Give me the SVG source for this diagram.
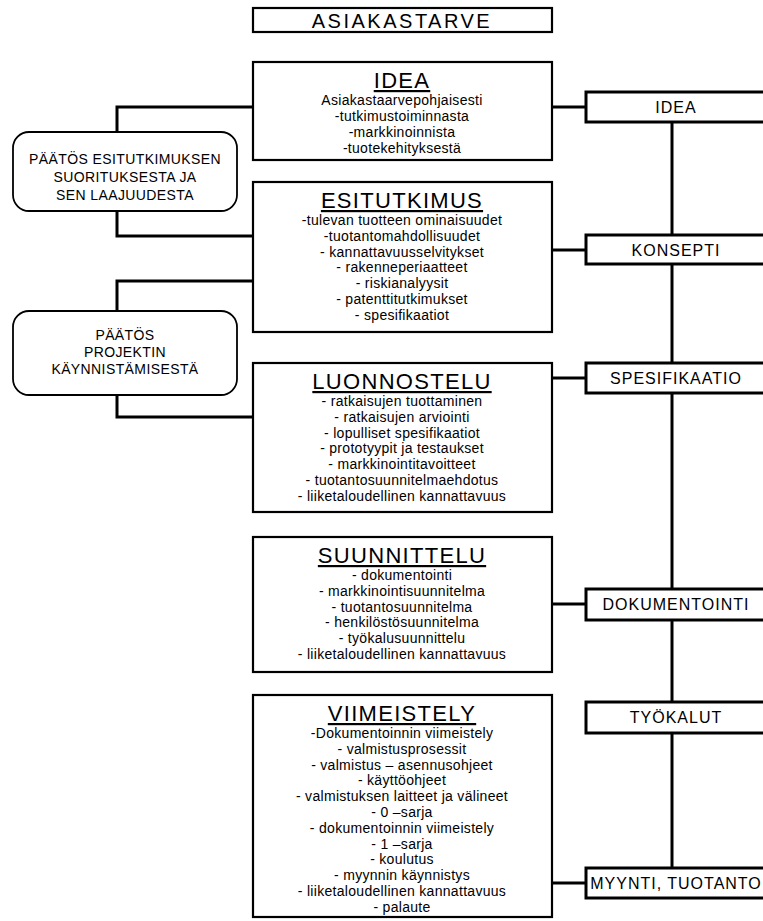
<svg xmlns="http://www.w3.org/2000/svg" width="763" height="921" viewBox="0 0 763 921">
<style>
text{font-family:"Liberation Sans",Arial,sans-serif;fill:#000}
.box{fill:#fff;stroke:#000;stroke-width:2.2}
.rbox{fill:#fff;stroke:#000;stroke-width:3}
.dec{fill:#fff;stroke:#000;stroke-width:1.8}
.conn{fill:none;stroke:#000;stroke-width:3}
.ttl{font-size:22px;letter-spacing:1.3px;text-anchor:middle;text-decoration:underline}
.body{font-size:14px;letter-spacing:0.3px;text-anchor:middle}
.lbl{font-size:16px;letter-spacing:1px;text-anchor:middle}
.dtx{font-size:14px;letter-spacing:0.4px;text-anchor:middle}
</style>
<g id="connectors">
<path class="conn" d="M253,107 H117 V132"/>
<path class="conn" d="M117,211 V236 H253"/>
<path class="conn" d="M253,281 H117 V311"/>
<path class="conn" d="M117,395 V417 H253"/>
<path class="conn" d="M552,107 H586"/>
<path class="conn" d="M552,250 H586"/>
<path class="conn" d="M552,378 H586"/>
<path class="conn" d="M552,604 H586"/>
<path class="conn" d="M552,883 H586"/>
<path class="conn" d="M672,122 V234 M672,264 V363 M672,393 V589 M672,620 V702 M672,733 V868"/>
</g>
<g id="asiakastarve">
<rect class="box" x="253" y="8" width="299" height="24"/>
<text x="402" y="28" style="font-size:20px;letter-spacing:2.5px;text-anchor:middle">ASIAKASTARVE</text>
</g>
<g id="idea">
<rect class="box" x="253" y="62" width="299" height="98"/>
<text class="ttl" x="402" y="88">IDEA</text>
<text class="body" x="402" y="105">Asiakastaarvepohjaisesti</text>
<text class="body" x="402" y="121">-tutkimustoiminnasta</text>
<text class="body" x="402" y="137">-markkinoinnista</text>
<text class="body" x="402" y="153">-tuotekehityksestä</text>
</g>
<g id="esitutkimus">
<rect class="box" x="253" y="182" width="299" height="150"/>
<text class="ttl" x="402" y="208">ESITUTKIMUS</text>
<text class="body" x="402" y="225">-tulevan tuotteen ominaisuudet</text>
<text class="body" x="402" y="240.8">-tuotantomahdollisuudet</text>
<text class="body" x="402" y="256.6">- kannattavuusselvitykset</text>
<text class="body" x="402" y="272.4">- rakenneperiaatteet</text>
<text class="body" x="402" y="288.2">- riskianalyysit</text>
<text class="body" x="402" y="304">- patenttitutkimukset</text>
<text class="body" x="402" y="319.8">- spesifikaatiot</text>
</g>
<g id="luonnostelu">
<rect class="box" x="253" y="363" width="299" height="149"/>
<text class="ttl" x="402" y="389">LUONNOSTELU</text>
<text class="body" x="402" y="406">- ratkaisujen tuottaminen</text>
<text class="body" x="402" y="421.8">- ratkaisujen arviointi</text>
<text class="body" x="402" y="437.6">- lopulliset spesifikaatiot</text>
<text class="body" x="402" y="453.4">- prototyypit ja testaukset</text>
<text class="body" x="402" y="469.2">- markkinointitavoitteet</text>
<text class="body" x="402" y="485">- tuotantosuunnitelmaehdotus</text>
<text class="body" x="402" y="500.8">- liiketaloudellinen kannattavuus</text>
</g>
<g id="suunnittelu">
<rect class="box" x="253" y="537" width="299" height="135"/>
<text class="ttl" x="402" y="563">SUUNNITTELU</text>
<text class="body" x="402" y="580">- dokumentointi</text>
<text class="body" x="402" y="595.8">- markkinointisuunnitelma</text>
<text class="body" x="402" y="611.6">- tuotantosuunnitelma</text>
<text class="body" x="402" y="627.4">- henkilöstösuunnitelma</text>
<text class="body" x="402" y="643.2">- työkalusuunnittelu</text>
<text class="body" x="402" y="659">- liiketaloudellinen kannattavuus</text>
</g>
<g id="viimeistely">
<rect class="box" x="253" y="695" width="299" height="222"/>
<text class="ttl" x="402" y="721">VIIMEISTELY</text>
<text class="body" x="402" y="738">-Dokumentoinnin viimeistely</text>
<text class="body" x="402" y="753.8">- valmistusprosessit</text>
<text class="body" x="402" y="769.6">- valmistus – asennusohjeet</text>
<text class="body" x="402" y="785.4">- käyttöohjeet</text>
<text class="body" x="402" y="801.2">- valmistuksen laitteet ja välineet</text>
<text class="body" x="402" y="817">- 0 –sarja</text>
<text class="body" x="402" y="832.8">- dokumentoinnin viimeistely</text>
<text class="body" x="402" y="848.6">- 1 –sarja</text>
<text class="body" x="402" y="864.4">- koulutus</text>
<text class="body" x="402" y="880.2">- myynnin käynnistys</text>
<text class="body" x="402" y="896">- liiketaloudellinen kannattavuus</text>
<text class="body" x="402" y="911.8">- palaute</text>
</g>
<g id="paatos-esitutkimus">
<rect class="dec" x="13" y="132" width="224" height="79" rx="16"/>
<text class="dtx" x="125" y="164">PÄÄTÖS ESITUTKIMUKSEN</text>
<text class="dtx" x="125" y="182">SUORITUKSESTA JA</text>
<text class="dtx" x="125" y="200">SEN LAAJUUDESTA</text>
</g>
<g id="paatos-projekti">
<rect class="dec" x="13" y="311" width="224" height="84" rx="16"/>
<text class="dtx" x="125" y="340">PÄÄTÖS</text>
<text class="dtx" x="125" y="357">PROJEKTIN</text>
<text class="dtx" x="125" y="374">KÄYNNISTÄMISESTÄ</text>
</g>
<g id="r-idea">
<rect class="rbox" x="586" y="92" width="182" height="30"/>
<text class="lbl" x="676" y="113">IDEA</text>
</g>
<g id="r-konsepti">
<rect class="rbox" x="586" y="235" width="182" height="29"/>
<text class="lbl" x="676" y="256">KONSEPTI</text>
</g>
<g id="r-spesifikaatio">
<rect class="rbox" x="586" y="363" width="182" height="30"/>
<text class="lbl" x="676" y="384">SPESIFIKAATIO</text>
</g>
<g id="r-dokumentointi">
<rect class="rbox" x="586" y="589" width="182" height="31"/>
<text class="lbl" x="676" y="610">DOKUMENTOINTI</text>
</g>
<g id="r-tyokalut">
<rect class="rbox" x="586" y="702" width="182" height="31"/>
<text class="lbl" x="676" y="723">TYÖKALUT</text>
</g>
<g id="r-myynti">
<rect class="rbox" x="586" y="868" width="182" height="30"/>
<text class="lbl" x="676" y="889">MYYNTI, TUOTANTO</text>
</g>
</svg>
